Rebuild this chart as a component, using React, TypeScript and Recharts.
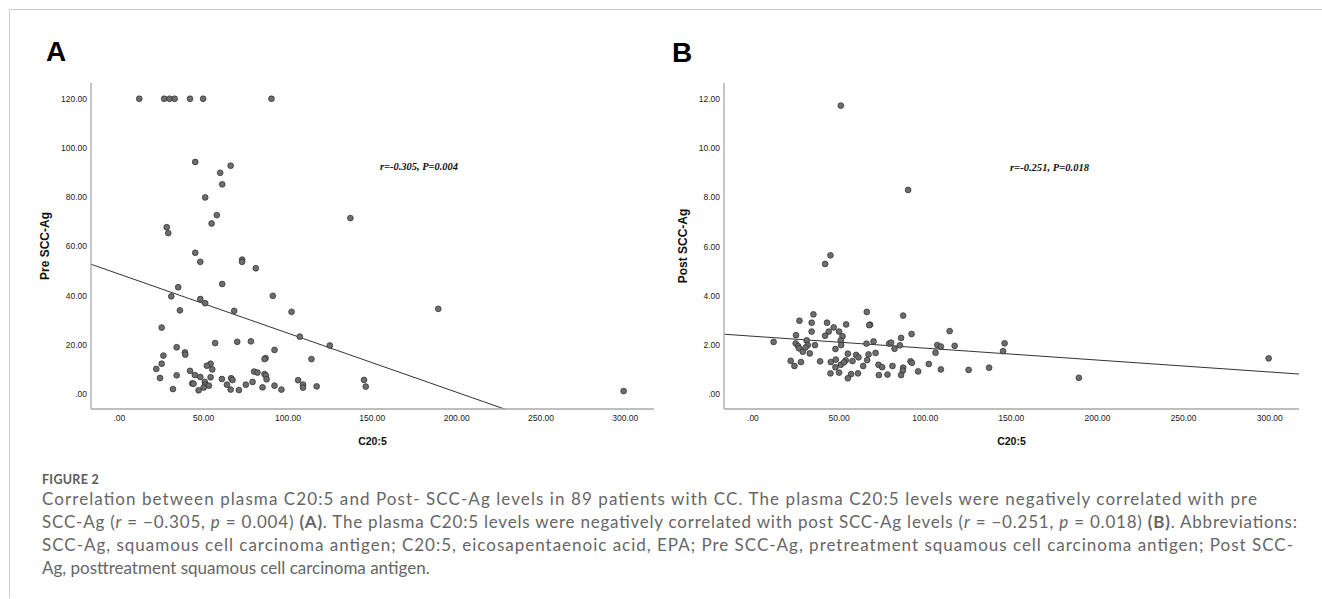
import React from 'react'
import { ScatterChart, Scatter, XAxis, YAxis, ReferenceLine } from 'recharts'

// panel A: C20:5 vs pre-treatment SCC-Ag
const PRE_C205 = [
  11.8, 26.6, 29.8, 32.8, 41.9, 49.7, 90.2,
  45.0, 66.0, 59.8, 61.0, 50.9, 57.8, 54.7, 28.1, 29.0, 137.0,
  45.0, 48.0, 72.8, 72.8, 80.9, 61.0, 34.9, 30.8, 91.0, 48.0, 50.9, 35.9, 68.1, 102.1, 25.1, 107.0, 124.8,
  78.0, 69.9, 56.8, 34.0, 92.0, 38.9, 39.1, 26.1, 86.7, 86.1, 113.9, 25.1, 54.1, 51.9, 21.9, 55.1,
  41.9, 79.9, 81.9, 86.1, 86.9, 44.8, 34.0, 48.0, 54.1, 24.1, 66.3, 60.8, 87.3, 67.1, 106.0, 43.2,
  44.0, 50.7, 50.9, 53.1, 63.8, 75.0, 79.0, 108.9, 108.9, 92.0, 84.9, 117.0, 31.8, 50.0, 66.0, 70.9,
  47.0, 96.1, 189.1, 145.1, 146.1, 299.0,
]
const PRE_SCC = [
  120, 120, 120, 120, 120, 120, 120,
  94.3, 92.8, 89.9, 85.2, 79.9, 72.7, 69.3, 67.8, 65.4, 71.5,
  57.4, 53.7, 54.6, 53.7, 51.1, 44.7, 43.4, 39.7, 39.9, 38.6, 36.9, 34.0, 33.8, 33.4, 27.0, 23.3, 19.7,
  21.4, 21.2, 20.7, 19.0, 17.9, 16.9, 16.0, 15.6, 14.6, 14.2, 14.2, 12.3, 12.3, 11.5, 10.2, 10.0,
  9.4, 9.1, 8.7, 8.1, 7.5, 7.7, 7.6, 6.9, 6.8, 6.5, 6.4, 6.1, 6.0, 5.7, 5.6, 4.3,
  4.2, 4.9, 3.7, 3.4, 3.8, 3.8, 4.9, 3.8, 2.6, 3.4, 2.7, 3.1, 2.0, 2.6, 1.8, 1.6,
  1.5, 1.8, 34.6, 5.7, 3.0, 1.2,
]

// panel B: C20:5 vs post-treatment SCC-Ag
const POST_C205 = [
  51.0, 90.1, 45.0, 41.9, 66.1, 35.1, 87.2, 27.0, 34.1, 43.0, 68.0, 67.5, 54.1, 46.9, 44.0, 34.1,
  50.0, 114.2, 41.9, 25.0, 52.0, 86.0, 92.1, 51.0, 31.2, 70.0, 24.8, 12.0, 65.9, 79.1, 80.2, 85.3,
  107.0, 109.1, 117.1, 36.0, 51.2, 26.2, 31.8, 26.7, 30.5, 47.9, 82.2, 28.9, 33.0, 55.1, 71.2, 67.1,
  106.0, 59.9, 61.3, 66.3, 21.9, 39.0, 27.9, 48.1, 53.9, 57.8, 45.2, 91.5, 92.3, 24.1, 51.0, 52.9,
  47.9, 72.9, 75.0, 64.0, 81.0, 87.2, 102.1, 109.1, 125.2, 137.1, 87.0, 95.9, 45.0, 50.0, 57.0, 61.0,
  73.1, 78.1, 86.0, 55.1, 146.1, 145.2, 189.2, 299.4,
]
const POST_SCC = [
  11.73, 8.3, 5.64, 5.29, 3.34, 3.24, 3.19, 2.98, 2.9, 2.9, 2.82, 2.8, 2.83, 2.71, 2.54, 2.54,
  2.54, 2.56, 2.37, 2.39, 2.35, 2.28, 2.44, 2.18, 2.18, 2.14, 2.06, 2.12, 2.05, 2.05, 2.09, 1.98,
  1.99, 1.93, 1.96, 1.99, 1.99, 1.95, 1.99, 1.86, 1.89, 1.83, 1.84, 1.72, 1.65, 1.64, 1.67, 1.61,
  1.68, 1.59, 1.49, 1.38, 1.35, 1.33, 1.3, 1.4, 1.37, 1.34, 1.3, 1.33, 1.27, 1.14, 1.19, 1.29,
  1.09, 1.19, 1.09, 1.14, 1.14, 1.07, 1.22, 1.0, 0.98, 1.07, 0.95, 0.92, 0.84, 0.87, 0.81, 0.84,
  0.77, 0.79, 0.77, 0.64, 2.06, 1.74, 0.66, 1.45,
]

const X_TICKS = [0, 50, 100, 150, 200, 250, 300]
const PRE_TICKS = [0, 20, 40, 60, 80, 100, 120]
const POST_TICKS = [0, 2, 4, 6, 8, 10, 12]
const X_DOMAIN: [number, number] = [-16.8, 317]
const PRE_DOMAIN: [number, number] = [-6.1, 126.4]
const POST_DOMAIN: [number, number] = [-0.61, 12.65]

// fitted lines (intercept, slope)
const PRE_FIT = [48.7, -0.24]
const POST_FIT = [2.35, -0.00485]

const CAPTION_LINES = [
  'Correlation between plasma C20:5 and Post- SCC-Ag levels in 89 patients with CC. The plasma C20:5 levels were negatively correlated with pre',
  'SCC-Ag, squamous cell carcinoma antigen; C20:5, eicosapentaenoic acid, EPA; Pre SCC-Ag, pretreatment squamous cell carcinoma antigen; Post SCC-',
  'Ag, posttreatment squamous cell carcinoma antigen.',
]

const ARIAL = '"Liberation Sans", Arial, sans-serif'
const CAPTION_FONT = 'Lato, "Open Sans", sans-serif'

const fmt = (v: number) => (v === 0 ? '.00' : v.toFixed(2))

const Dot = (props: any) => (
  <circle cx={props.cx} cy={props.cy} r={2.9} fill="#6d6d6d" stroke="#2b2b2b" strokeWidth={0.7} />
)

type PanelProps = {
  xs: number[]
  ys: number[]
  yTicks: number[]
  yDomain: [number, number]
  fit: number[]
  width: number
  left: number
  marginLeft: number
  marginRight: number
}

function Panel({ xs, ys, yTicks, yDomain, fit, width, left, marginLeft, marginRight }: PanelProps) {
  const data = xs.map((x, i) => ({ x, y: ys[i] }))
  const [b0, b1] = fit
  const seg = [
    { x: X_DOMAIN[0], y: b0 + b1 * X_DOMAIN[0] },
    { x: X_DOMAIN[1], y: b0 + b1 * X_DOMAIN[1] },
  ]
  const axisLine = { stroke: '#a8a8a8', strokeWidth: 1.3 }
  const tick = { fontSize: 8.5, fill: '#222', fontFamily: ARIAL }
  return (
    <div style={{ position: 'absolute', left, top: 0 }}>
      <ScatterChart
        width={width}
        height={460}
        margin={{ top: 83, right: marginRight, bottom: 21, left: marginLeft }}
      >
        <XAxis
          type="number"
          dataKey="x"
          domain={X_DOMAIN}
          ticks={X_TICKS}
          allowDataOverflow
          tickFormatter={fmt}
          axisLine={axisLine}
          tickLine={false}
          tickSize={6}
          tickMargin={0}
          height={30}
          tick={tick}
        />
        <YAxis
          type="number"
          dataKey="y"
          domain={yDomain}
          ticks={yTicks}
          allowDataOverflow
          tickFormatter={fmt}
          axisLine={axisLine}
          tickLine={false}
          tickSize={4}
          tickMargin={0}
          width={60}
          tick={tick}
        />
        <ReferenceLine segment={seg} stroke="#333" strokeWidth={1} ifOverflow="hidden" />
        <Scatter data={data} shape={Dot} isAnimationActive={false} />
      </ScatterChart>
    </div>
  )
}

export default function App() {
  return (
    <div style={{ position: 'absolute', left: 0, top: 0, width: 1322, height: 599, background: '#fff', overflow: 'hidden' }}>
      <div
        style={{
          position: 'absolute',
          left: 9,
          top: 9,
          width: 1313,
          height: 588,
          borderTop: '1px solid #cfcfcf',
          borderLeft: '1px solid #cfcfcf',
        }}
      />
      <Panel
        xs={PRE_C205}
        ys={PRE_SCC}
        yTicks={PRE_TICKS}
        yDomain={PRE_DOMAIN}
        fit={PRE_FIT}
        width={660}
        left={0}
        marginLeft={31}
        marginRight={6}
      />
      <Panel
        xs={POST_C205}
        ys={POST_SCC}
        yTicks={POST_TICKS}
        yDomain={POST_DOMAIN}
        fit={POST_FIT}
        width={662}
        left={660}
        marginLeft={4}
        marginRight={23}
      />
      <svg width={1322} height={599} style={{ position: 'absolute', left: 0, top: 0, pointerEvents: 'none' }}>
        <text x={46} y={61} fontFamily={ARIAL} fontWeight={700} fontSize={28} fill="#000">A</text>
        <text x={672} y={62} fontFamily={ARIAL} fontWeight={700} fontSize={28} fill="#000">B</text>

        <text x={45} y={246} transform="rotate(-90 45 246)" textAnchor="middle" dominantBaseline="central"
          fontFamily={ARIAL} fontWeight={700} fontSize={12} fill="#111">Pre SCC-Ag</text>
        <text x={683} y={246} transform="rotate(-90 683 246)" textAnchor="middle" dominantBaseline="central"
          fontFamily={ARIAL} fontWeight={700} fontSize={12} fill="#111">Post SCC-Ag</text>
        <text x={372.5} y={445} textAnchor="middle" fontFamily={ARIAL} fontWeight={700} fontSize={10.5} fill="#111">C20:5</text>
        <text x={1011.5} y={445} textAnchor="middle" fontFamily={ARIAL} fontWeight={700} fontSize={10.5} fill="#111">C20:5</text>

        <text x={380} y={170} textLength={78} lengthAdjust="spacingAndGlyphs" fontFamily='"Liberation Serif", serif'
          fontStyle="italic" fontWeight={700} fontSize={10.5} fill="#111">r=-0.305, P=0.004</text>
        <text x={1010} y={171} textLength={79} lengthAdjust="spacingAndGlyphs" fontFamily='"Liberation Serif", serif'
          fontStyle="italic" fontWeight={700} fontSize={10.5} fill="#111">r=-0.251, P=0.018</text>

        <text x={42} y={484} fontFamily={CAPTION_FONT} fontWeight={700} fontSize={12.5} fill="#5a5a5a" letterSpacing={0.3}>FIGURE 2</text>
        <g fontFamily={CAPTION_FONT} fontSize={17} fill="#666">
          <text x={42} y={505} textLength={1215} lengthAdjust="spacing">{CAPTION_LINES[0]}</text>
          <text x={42} y={528} textLength={1255} lengthAdjust="spacing">
            SCC-Ag (<tspan fontStyle="italic">r</tspan> = −0.305, <tspan fontStyle="italic">p</tspan> = 0.004){' '}
            <tspan fontWeight={700}>(A)</tspan>. The plasma C20:5 levels were negatively correlated with post SCC-Ag levels (
            <tspan fontStyle="italic">r</tspan> = −0.251, <tspan fontStyle="italic">p</tspan> = 0.018){' '}
            <tspan fontWeight={700}>(B)</tspan>. Abbreviations:
          </text>
          <text x={42} y={551} textLength={1251} lengthAdjust="spacing">{CAPTION_LINES[1]}</text>
          <text x={42} y={574}>{CAPTION_LINES[2]}</text>
        </g>
      </svg>
    </div>
  )
}
